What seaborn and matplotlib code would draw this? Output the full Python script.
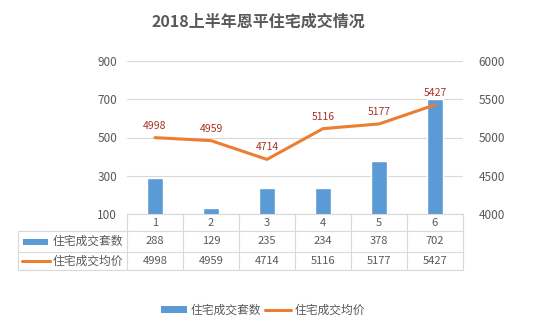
import numpy as np
import pandas as pd
import matplotlib
matplotlib.use("Agg")
import matplotlib.pyplot as plt
import matplotlib.transforms as mtransforms
from matplotlib.patches import Rectangle
from matplotlib.lines import Line2D
import seaborn as sns

months = ["1", "2", "3", "4", "5", "6"]
counts = [288, 129, 235, 234, 378, 702]
prices = [4998, 4959, 4714, 5116, 5177, 5427]
left_ticks = [100, 300, 500, 700, 900]
right_ticks = [4000, 4500, 5000, 5500, 6000]
title = "2018上半年恩平住宅成交情况"
name_count = "住宅成交套数"
name_price = "住宅成交均价"

sns.set_theme(style="white")
plt.rcParams['font.family'] = ['Noto Sans CJK SC', 'DejaVu Sans']

BLUE = "#5B9BD5"
ORANGE = "#ED7D31"
TXT = "#595959"
GRID = "#D9D9D9"
RED = "#A93226"

W, H = 537, 335
fig = plt.figure(figsize=(W / 100, H / 100), dpi=100)
fig.patch.set_facecolor("white")
ax = fig.add_axes([127 / W, 1 - 214 / H, (463 - 127) / W, (214 - 61) / H])
ax.set_facecolor("none")

df = pd.DataFrame({"month": months, "count": counts, "price": prices})
sns.barplot(data=df, x="month", y="count", ax=ax, color=BLUE, width=0.28,
            saturation=1, zorder=3)
ax.set_ylim(100, 900)
ax.set_yticks(left_ticks)
ax.set_xlim(-0.5, 5.5)
ax.yaxis.grid(True, color=GRID, linewidth=0.8, zorder=0)
ax.set_axisbelow(True)
ax.set_xlabel("")
ax.set_ylabel("")
ax.set_xticks([])
for s in ax.spines.values():
    s.set_visible(False)
ax.tick_params(axis="y", length=0, pad=7, labelsize=8.5, labelcolor=TXT)

ax2 = ax.twinx()
xs = np.arange(len(months))
sns.lineplot(x=xs, y=prices, ax=ax2, color=ORANGE, linewidth=2.2, zorder=4)
ax2.set_ylim(4000, 6000)
ax2.set_yticks(right_ticks)
ax2.set_ylabel("")
for s in ax2.spines.values():
    s.set_visible(False)
ax2.tick_params(axis="y", length=0, pad=11, labelsize=8.5, labelcolor=TXT)
for x, p in zip(xs, prices):
    ax2.annotate(str(p), (x, p), xytext=(0, 5), textcoords="offset points",
                 ha="center", va="bottom", fontsize=7.5, color=RED)

# data table below the plot
trans = mtransforms.blended_transform_factory(ax.transData, fig.transFigure)
figy = lambda py: 1 - py / H
figx = lambda px: px / W
rows_y = [214, 231, 252, 270]
lkw = dict(color=GRID, linewidth=0.8, transform=fig.transFigure)
fig.add_artist(Line2D([figx(127), figx(463)], [figy(214), figy(214)], **lkw))
for py in rows_y[1:]:
    fig.add_artist(Line2D([figx(18), figx(463)], [figy(py), figy(py)], **lkw))
fig.add_artist(Line2D([figx(18), figx(18)], [figy(231), figy(270)], **lkw))
for i in range(len(months) + 1):
    xd = i - 0.5
    fig.add_artist(Line2D([xd, xd], [figy(214), figy(270)], color=GRID,
                          linewidth=0.8, transform=trans))
for i, m in enumerate(months):
    fig.text(i, figy(222.5), m, transform=trans, ha="center", va="center",
             fontsize=8, color=TXT)
    fig.text(i, figy(241.5), str(counts[i]), transform=trans, ha="center",
             va="center", fontsize=8, color=TXT)
    fig.text(i, figy(261), str(prices[i]), transform=trans, ha="center",
             va="center", fontsize=8, color=TXT)
fig.add_artist(Rectangle((figx(23), figy(244.5)), figx(25), (6 / H),
                         facecolor=BLUE, edgecolor="none",
                         transform=fig.transFigure))
fig.text(figx(53), figy(241.5), name_count, ha="left", va="center",
         fontsize=8.5, color=TXT)
fig.add_artist(Line2D([figx(22), figx(50)], [figy(261), figy(261)],
                      color=ORANGE, linewidth=2.2, transform=fig.transFigure))
fig.text(figx(53), figy(261), name_price, ha="left", va="center",
         fontsize=8.5, color=TXT)

# legend at bottom
handles = [Rectangle((0, 0), 1, 1, facecolor=BLUE, edgecolor="none"),
           Line2D([0], [0], color=ORANGE, linewidth=2.2)]
fig.legend(handles, [name_count, name_price], loc="center",
           bbox_to_anchor=(0.49, figy(310)), ncol=2, frameon=False,
           fontsize=8.5, handlelength=2.2, handleheight=0.5,
           handletextpad=0.3, columnspacing=0.4, labelcolor=TXT)

fig.text(figx(258), figy(22), title, ha="center", va="center", fontsize=11.5,
         fontweight="bold", color=TXT)

fig.savefig("out.png", dpi=100, facecolor="white")
